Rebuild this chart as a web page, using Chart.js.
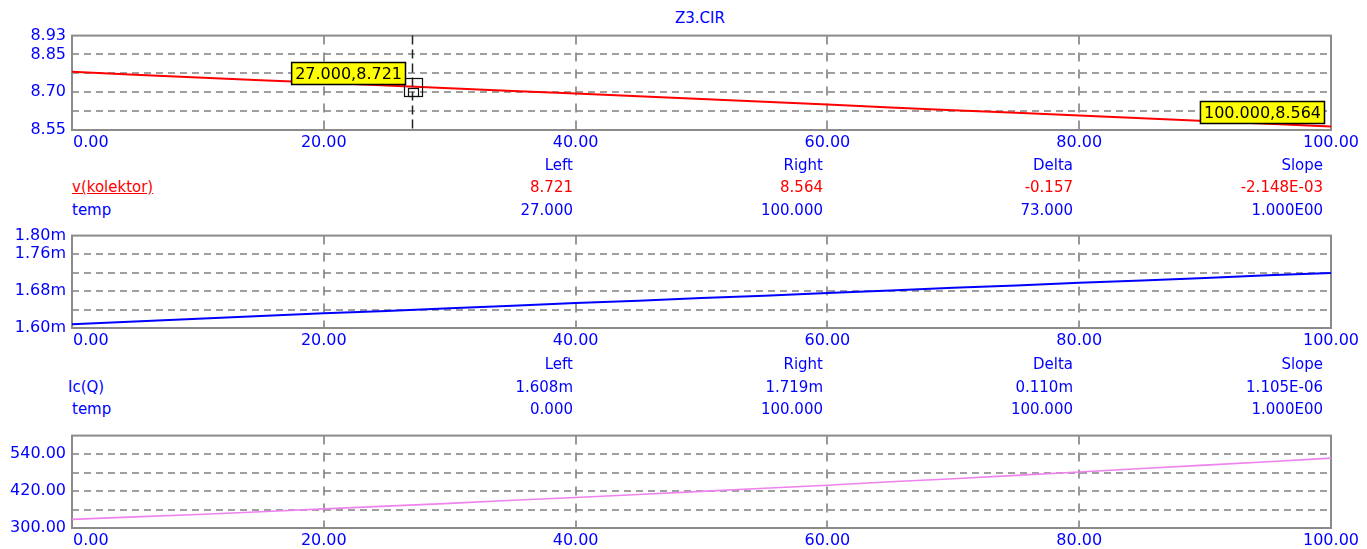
<!DOCTYPE html>
<html><head><meta charset="utf-8">
<script src="https://cdn.jsdelivr.net/npm/chart.js@4.4.1/dist/chart.umd.min.js"></script>
<style>
html,body{margin:0;padding:0;background:#fff;}
#root{position:relative;width:1367px;height:549px;overflow:hidden;font-family:'DejaVu Sans',sans-serif;background:#fff;}
canvas{position:absolute;left:0;}
.t{position:absolute;font-size:15px;line-height:20px;white-space:nowrap;color:#0000ff;}
</style></head><body>
<div id="root">
  <div class="t" style="left:600px;width:200px;text-align:center;top:8px;">Z3.CIR</div>
  <canvas id="c1" width="1367" height="140" style="top:20px"></canvas>
  <canvas id="c2" width="1367" height="138" style="top:220px"></canvas>
  <canvas id="c3" width="1367" height="129" style="top:420px"></canvas>
</div>
<script>
// ---- data ----
const temps = [0,5,10,15,20,25,30,35,40,45,50,55,60,65,70,75,80,85,90,95,100];
const vKolektor = [8.784,8.772,8.761,8.750,8.740,8.729,8.718,8.707,8.697,8.686,8.675,8.664,8.653,8.641,8.630,8.619,8.608,8.597,8.586,8.575,8.564];
const icQ = [1.608,1.614,1.620,1.626,1.632,1.637,1.643,1.648,1.654,1.659,1.665,1.670,1.676,1.681,1.687,1.692,1.698,1.703,1.708,1.714,1.719];
const series3 = [328,336,344,353,362,371,380,390,399,409,419,429,439,450,460,471,482,493,504,515,527];

const xTicks = [0,20,40,60,80,100];
const xTickLabels = ['0.00','20.00','40.00','60.00','80.00','100.00'];
const yTicks1 = [8.55,8.626,8.702,8.778,8.854,8.93];
const yLabels1 = ['8.55','','8.70','','8.85','8.93'];
const yTicks2 = [1.60,1.64,1.68,1.72,1.76,1.80];
const yLabels2 = ['1.60m','','1.68m','','1.76m','1.80m'];
const yTicks3 = [300,360,420,480,540,600];
const yLabels3 = ['300.00','','420.00','','540.00',''];

const readoutCols = ['Left','Right','Delta','Slope'];
const readout1Y = ['8.721','8.564','-0.157','-2.148E-03'];
const readout1X = ['27.000','100.000','73.000','1.000E00'];
const readout2Y = ['1.608m','1.719m','0.110m','1.105E-06'];
const readout2X = ['0.000','100.000','100.000','1.000E00'];
const cursorTemps = [27, 100];
const cursorVals = [8.721, 8.564];

// ---- style ----
const BLUE = '#0000ff', RED = '#ff0000', VIOLET = '#ee82ee';
const GRID = '#808080', FRAME = '#8a8a8a';
const FONT = '"DejaVu Sans", sans-serif';

function makeDecor(opts){
  return {
    id: 'decor',
    beforeDatasetsDraw(chart){
      const {ctx, chartArea:a, scales:{x, y}} = chart;
      ctx.save();
      ctx.strokeStyle = GRID; ctx.lineWidth = 1.6;
      ctx.setLineDash([7,5]);
      y.ticks.forEach((t,i)=>{
        if(i===0 || i===y.ticks.length-1) return;
        const py = Math.round(y.getPixelForValue(t.value));
        ctx.beginPath(); ctx.moveTo(a.left, py); ctx.lineTo(a.right, py); ctx.stroke();
      });
      ctx.setLineDash([9,8]);
      x.ticks.forEach((t,i)=>{
        if(i===0 || i===x.ticks.length-1) return;
        const px = Math.round(x.getPixelForValue(t.value));
        ctx.beginPath(); ctx.moveTo(px, a.top); ctx.lineTo(px, a.bottom); ctx.stroke();
      });
      ctx.setLineDash([]);
      ctx.lineWidth = 2; ctx.strokeStyle = FRAME;
      ctx.strokeRect(a.left, a.top, a.right-a.left, a.bottom-a.top);
      ctx.restore();
    },
    afterDraw(chart){
      const {ctx, chartArea:a, scales:{x, y}} = chart;
      ctx.save();
      ctx.font = '16px ' + FONT; ctx.fillStyle = BLUE; ctx.textBaseline = 'middle';
      x.ticks.forEach((t,i)=>{
        const px = x.getPixelForValue(t.value);
        ctx.textAlign = i===0 ? 'left' : 'center';
        ctx.fillText(xTickLabels[i], i===0 ? px+1 : px, a.bottom + 12.5);
      });
      if(opts.cursor){
        const cx = Math.round(x.getPixelForValue(cursorTemps[0])) + 0.5;
        ctx.strokeStyle = '#222'; ctx.lineWidth = 1.5; ctx.setLineDash([9,5]);
        ctx.beginPath(); ctx.moveTo(cx, a.top); ctx.lineTo(cx, a.bottom); ctx.stroke();
        ctx.setLineDash([]);
        const cy = y.getPixelForValue(cursorVals[0]);
        ctx.lineWidth = 1.2; ctx.strokeStyle = '#111';
        ctx.strokeRect(Math.round(cx-9)+0.5, Math.round(cy-10)+0.5, 18, 18);
        ctx.strokeRect(Math.round(cx-5)+0.5, Math.round(cy)+0.5, 10, 8);
        cursorTemps.forEach((tv,i)=>{
          const px = x.getPixelForValue(tv), py = y.getPixelForValue(cursorVals[i]);
          const txt = readout1X[i] + ',' + readout1Y[i];
          ctx.font = '16px ' + FONT;
          const w = ctx.measureText(txt).width + 8, h = 23;
          const right = Math.round(px - 6), bottom = Math.round(py - 3);
          ctx.fillStyle = '#ffff00';
          ctx.fillRect(right - w, bottom - h, w, h);
          ctx.strokeStyle = '#000'; ctx.lineWidth = 1.5;
          ctx.strokeRect(right - w + 0.5, bottom - h + 0.5, w - 1, h - 1);
          ctx.fillStyle = '#000'; ctx.textAlign = 'left'; ctx.textBaseline = 'middle';
          ctx.fillText(txt, right - w + 4, bottom - h/2 + 1);
        });
      }
      ctx.restore();
    }
  };
}

function makePanel(id, values, color, lw, yMin, yMax, yTicks, yLabels, xHeight, cursor){
  const data = temps.map((t,i)=>({x:t, y:values[i]}));
  return new Chart(document.getElementById(id), {
    type: 'line',
    data: { datasets: [{ data, borderColor: color, borderWidth: lw, pointRadius: 0, tension: 0, fill: false }] },
    options: {
      responsive: false, animation: false, events: [],
      layout: { padding: { left: 0, right: 36, top: 13, bottom: 0 } },
      plugins: { legend: { display: false }, tooltip: { enabled: false } },
      scales: {
        x: { type: 'linear', min: 0, max: 100,
             afterBuildTicks: s => { s.ticks = xTicks.map(v => ({value: v})); },
             afterFit: s => { s.height = xHeight; },
             grid: { display: false, drawTicks: false }, border: { display: false },
             ticks: { display: false } },
        y: { type: 'linear', min: yMin, max: yMax,
             afterBuildTicks: s => { s.ticks = yTicks.map(v => ({value: v})); },
             afterFit: s => { s.width = 72; },
             grid: { display: false, drawTicks: false }, border: { display: false },
             ticks: { autoSkip: false, padding: 6, color: BLUE, font: { family: 'DejaVu Sans', size: 16 },
                      callback: (v, i) => yLabels[i] } }
      }
    },
    plugins: [makeDecor({cursor})]
  });
}

makePanel('c1', vKolektor, RED, 2, 8.55, 8.93, yTicks1, yLabels1, 30, true);
makePanel('c2', icQ, BLUE, 2, 1.60, 1.80, yTicks2, yLabels2, 30, false);
makePanel('c3', series3, VIOLET, 1.6, 300, 600, yTicks3, yLabels3, 21, false);

// ---- readout tables (real text) ----
const root = document.getElementById('root');
const colRight = [573, 823, 1073, 1323];
function addText(txt, x, yc, align, color, extra){
  const d = document.createElement('div');
  d.className = 't';
  d.textContent = txt;
  d.style.top = (yc - 10) + 'px';
  d.style.color = color;
  if(align === 'right'){ d.style.left = (x - 200) + 'px'; d.style.width = '200px'; d.style.textAlign = 'right'; }
  else { d.style.left = x + 'px'; }
  if(extra) Object.assign(d.style, extra);
  root.appendChild(d);
}
function table(rowY, name, nameColor, nameX, yVals, yColor, xVals, underline){
  readoutCols.forEach((c,i)=> addText(c, colRight[i], rowY[0], 'right', BLUE));
  addText(name, nameX, rowY[1], 'left', nameColor, underline ? {textDecoration:'underline'} : null);
  yVals.forEach((v,i)=> addText(v, colRight[i], rowY[1], 'right', yColor));
  addText('temp', 72, rowY[2], 'left', BLUE);
  xVals.forEach((v,i)=> addText(v, colRight[i], rowY[2], 'right', BLUE));
}
table([165,187,210], 'v(kolektor)', RED, 72, readout1Y, RED, readout1X, true);
table([364,387,409], 'Ic(Q)', BLUE, 68, readout2Y, BLUE, readout2X, false);
</script>
</body></html>
